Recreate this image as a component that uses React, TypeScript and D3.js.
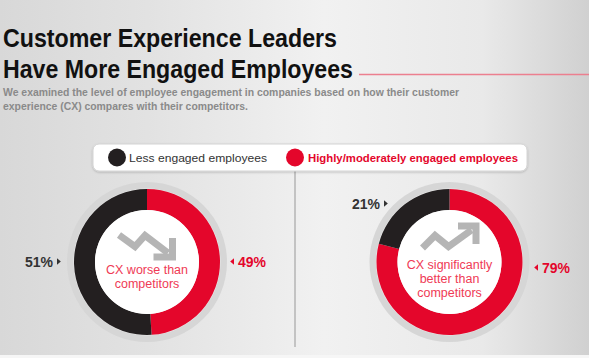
import React from "react";
import * as d3 from "d3";

const categories = ["Less engaged employees", "Highly/moderately engaged employees"];
const categoryColors = ["#231f20", "#e4062b"];
// order for pie: [highly/moderately, less]
const worseValues = [49, 51];
const betterValues = [79, 21];
const worseLabel = ["CX worse than", "competitors"];
const betterLabel = ["CX significantly", "better than", "competitors"];
const titleLines = ["Customer Experience Leaders", "Have More Engaged Employees"];
const subtitleLines = [
  "We examined the level of employee engagement in companies based on how their customer",
  "experience (CX) compares with their competitors.",
];

const W = 589;
const H = 358;
const RED = "#e4062b";
const BLACK = "#231f20";
const FONT = "'Liberation Sans', Arial, Helvetica, sans-serif";

const rOuter = 73;
const rInner = 52;
const rRing = 80;

function Donut({ cx, cy, values, lines, up }: { cx: number; cy: number; values: number[]; lines: string[]; up: boolean }) {
  const pie = d3.pie<number>().sort(null).value((d) => d)(values);
  const arc = d3.arc<d3.PieArcDatum<number>>().innerRadius(rInner).outerRadius(rOuter);
  const colors = [RED, BLACK];
  const iconColor = "#b5b5b5";
  let shaft: [number, number][];
  let head: [number, number][];
  if (!up) {
    shaft = [[-28, -27], [-12, -15.5], [-2, -26.5], [21, -9]];
    const t: [number, number] = [25.5, -5];
    head = [[t[0], t[1] - 19], t, [t[0] - 19, t[1]]];
  } else {
    shaft = [[-27, -14], [-14.5, -26.5], [-1, -15.5], [22, -32]];
    const t: [number, number] = [26.5, -36];
    head = [[t[0] - 18, t[1]], t, [t[0], t[1] + 18]];
  }
  const line = d3.line();
  const lineH = 14;
  const firstBase = lines.length === 2 ? 11.5 : 7;
  return (
    <g transform={`translate(${cx},${cy})`}>
      <circle r={rRing} fill="#d6d6d6" />
      <circle r={rOuter + 0.5} fill="#e9e9e9" />
      {pie.map((p, i) => (
        <path key={i} d={arc(p) || ""} fill={colors[i]} />
      ))}
      <circle r={rInner} fill="#ffffff" />
      <path d={line(shaft) || ""} fill="none" stroke={iconColor} strokeWidth={7} strokeLinejoin="miter" />
      <path d={line(head) || ""} fill="none" stroke={iconColor} strokeWidth={7} strokeLinejoin="miter" strokeMiterlimit={10} />
      {lines.map((l, i) => (
        <text key={i} x={0} y={firstBase + i * lineH} textAnchor="middle" fontFamily={FONT} fontSize={12.5} fill="#ef3a55">
          {l}
        </text>
      ))}
    </g>
  );
}

function Tri({ x, y, dir, color }: { x: number; y: number; dir: "l" | "r"; color: string }) {
  const s = 3.2;
  const pts = dir === "r" ? `${x},${y - s} ${x + s * 1.2},${y} ${x},${y + s}` : `${x},${y - s} ${x - s * 1.2},${y} ${x},${y + s}`;
  return <polygon points={pts} fill={color} />;
}

export default function App() {
  const L = { cx: 147, cy: 262 };
  const R = { cx: 449.5, cy: 262 };
  const pctFmt = (v: number) => `${v}%`;
  return (
    <svg width={W} height={H} style={{ position: "absolute", left: 0, top: 0, display: "block" }}>
      <defs>
        <linearGradient id="bg" x1="0" y1="0" x2="1" y2="0">
          <stop offset="0%" stopColor="#d8d8d8" />
          <stop offset="25%" stopColor="#e2e2e2" />
          <stop offset="55%" stopColor="#f1f1f1" />
          <stop offset="82%" stopColor="#e9e9e9" />
          <stop offset="100%" stopColor="#d0d0d0" />
        </linearGradient>
        <filter id="sh" x="-5%" y="-30%" width="110%" height="160%">
          <feDropShadow dx="0" dy="1" stdDeviation="1" floodColor="#000" floodOpacity="0.2" />
        </filter>
      </defs>
      <rect x={0} y={0} width={W} height={H} fill="url(#bg)" />
      <rect x={0} y={355} width={W} height={3} fill="#f6f6f6" />

      {/* Title */}
      <text x={3} y={47} fontFamily={FONT} fontWeight="bold" fontSize={25.5} fill="#111" textLength={334} lengthAdjust="spacingAndGlyphs">
        {titleLines[0]}
      </text>
      <text x={3} y={78} fontFamily={FONT} fontWeight="bold" fontSize={25.5} fill="#111" textLength={350} lengthAdjust="spacingAndGlyphs">
        {titleLines[1]}
      </text>
      <line x1={359} x2={W} y1={74.5} y2={74.5} stroke="#ec7f8f" strokeWidth={1.5} />
      <text x={3} y={96} fontFamily={FONT} fontWeight="bold" fontSize={11} fill="#8a8a8a" textLength={456} lengthAdjust="spacingAndGlyphs">
        {subtitleLines[0]}
      </text>
      <text x={3} y={110} fontFamily={FONT} fontWeight="bold" fontSize={11} fill="#8a8a8a" textLength={245} lengthAdjust="spacingAndGlyphs">
        {subtitleLines[1]}
      </text>

      {/* Divider */}
      <line x1={295} x2={295} y1={171} y2={347} stroke="#b4b4b4" strokeWidth={1.5} />

      {/* Legend */}
      <rect x={93} y={144} width={434} height={27} rx={6} fill="#ffffff" stroke="#d4d4d4" strokeWidth={1} filter="url(#sh)" />
      <circle cx={117} cy={157.5} r={9} fill={categoryColors[0]} />
      <text x={129} y={161.5} fontFamily={FONT} fontSize={11.5} fill="#333" textLength={138} lengthAdjust="spacingAndGlyphs">
        {categories[0]}
      </text>
      <circle cx={295} cy={157.5} r={9} fill={categoryColors[1]} />
      <text x={308} y={161.5} fontFamily={FONT} fontWeight="bold" fontSize={11.5} fill={RED} textLength={210} lengthAdjust="spacingAndGlyphs">
        {categories[1]}
      </text>

      <Donut cx={L.cx} cy={L.cy} values={worseValues} lines={worseLabel} up={false} />
      <Donut cx={R.cx} cy={R.cy} values={betterValues} lines={betterLabel} up={true} />

      {/* Left labels */}
      <text x={L.cx - 94} y={266.5} textAnchor="end" fontFamily={FONT} fontWeight="bold" fontSize={14} fill="#333">
        {pctFmt(worseValues[1])}
      </text>
      <Tri x={L.cx - 90} y={261.5} dir="r" color="#333" />
      <text x={L.cx + 91} y={266.5} fontFamily={FONT} fontWeight="bold" fontSize={14} fill={RED}>
        {pctFmt(worseValues[0])}
      </text>
      <Tri x={L.cx + 87} y={261.5} dir="l" color={RED} />

      {/* Right labels */}
      <text x={R.cx - 69.5} y={208.5} textAnchor="end" fontFamily={FONT} fontWeight="bold" fontSize={14} fill="#333">
        {pctFmt(betterValues[1])}
      </text>
      <Tri x={R.cx - 65.5} y={203.5} dir="r" color="#333" />
      <text x={R.cx + 92.5} y={272.5} fontFamily={FONT} fontWeight="bold" fontSize={14} fill={RED}>
        {pctFmt(betterValues[0])}
      </text>
      <Tri x={R.cx + 88.5} y={267.5} dir="l" color={RED} />
    </svg>
  );
}
